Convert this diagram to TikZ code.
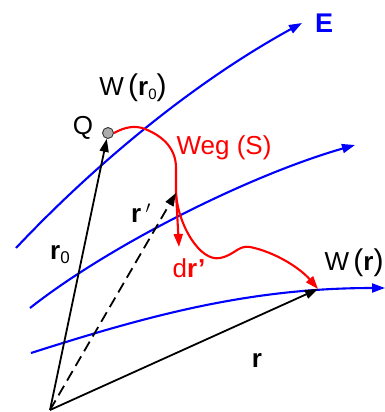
\documentclass[tikz,border=0pt]{standalone}
\usepackage{fontspec}
\setmainfont{Liberation Sans}
\usetikzlibrary{arrows.meta}
\begin{document}
\begin{tikzpicture}[x=1pt,y=-1pt,
  lbl/.style={inner sep=0pt, font=\fontsize{26}{30}\selectfont},
  tip/.style={-{Triangle[length=13pt,width=9pt]}},
  field/.style={blue, line width=2.1pt, tip},
  vec/.style={line width=1.8pt, tip},
  way/.style={red, line width=2.1pt, tip}]
\useasboundingbox (0,0) rectangle (385,412);
% points
\coordinate (O) at (50,410);
\coordinate (Rp) at (176,193);
\coordinate (Wr) at (318,289);
\coordinate (D) at (179,247);
\coordinate (F1s) at (16,248);
\coordinate (F1e) at (302,23);
\coordinate (F2s) at (30,308);
\coordinate (F2e) at (355,145);
\coordinate (F3s) at (31,353);
\coordinate (F3e) at (385,288);
% field lines
\draw[field] (F1s) .. controls (80,180) and (180,90) .. (F1e);
\draw[field] (F2s) .. controls (110,245) and (250,175) .. (F2e);
\draw[field] (F3s) .. controls (150,315) and (250,288) .. (F3e);
% Q dot
\node[circle, fill=gray!65, draw=gray!40!black, line width=0.9pt, inner sep=0pt, minimum size=11pt] (Q) at (108,133) {};
% path
\draw[way] (Q.east) .. controls (125,127) and (135,125) .. (145,129)
  .. controls (165,137) and (176,150) .. (176,168) -- (Rp)
  .. controls (178,225) and (200,262) .. (220,258)
  .. controls (235,255) and (238,245) .. (250,247)
  .. controls (275,252) and (300,268) .. (Wr);
\draw[way] (Rp) -- (D);
% vectors
\draw[vec] (O) -- (Q);
\draw[vec, dash pattern=on 11pt off 6pt] (O) -- (Rp);
\draw[vec] (O) -- (Wr);
% labels
\node[lbl, blue, font=\fontsize{27}{30}\selectfont\bfseries] (E) at (324,23) {E};
\node[lbl] (Wr0) at (133,88) {W\,{\fontsize{30}{30}\selectfont(}{\bfseries r}\raisebox{-0.3ex}{\fontsize{15}{15}\selectfont 0}{\fontsize{30}{30}\selectfont)}};
\node[lbl] (Ql) at (83,128) {Q};
\node[lbl, red] (Weg) at (224,148) {Weg (S)};
\node[lbl] (rpl) at (141,213) {{\bfseries r}\,$'$};
\node[lbl] (r0l) at (60,255) {{\bfseries r}\raisebox{-0.3ex}{\fontsize{17}{17}\selectfont 0}};
\node[lbl, red] (drl) at (189,268) {d{\bfseries r’}};
\node[lbl] (Wrl) at (354,263) {W\,{\fontsize{30}{30}\selectfont(}{\bfseries r}{\fontsize{30}{30}\selectfont)}};
\node[lbl] (rl) at (257,360) {\bfseries r};
\end{tikzpicture}
\end{document}
